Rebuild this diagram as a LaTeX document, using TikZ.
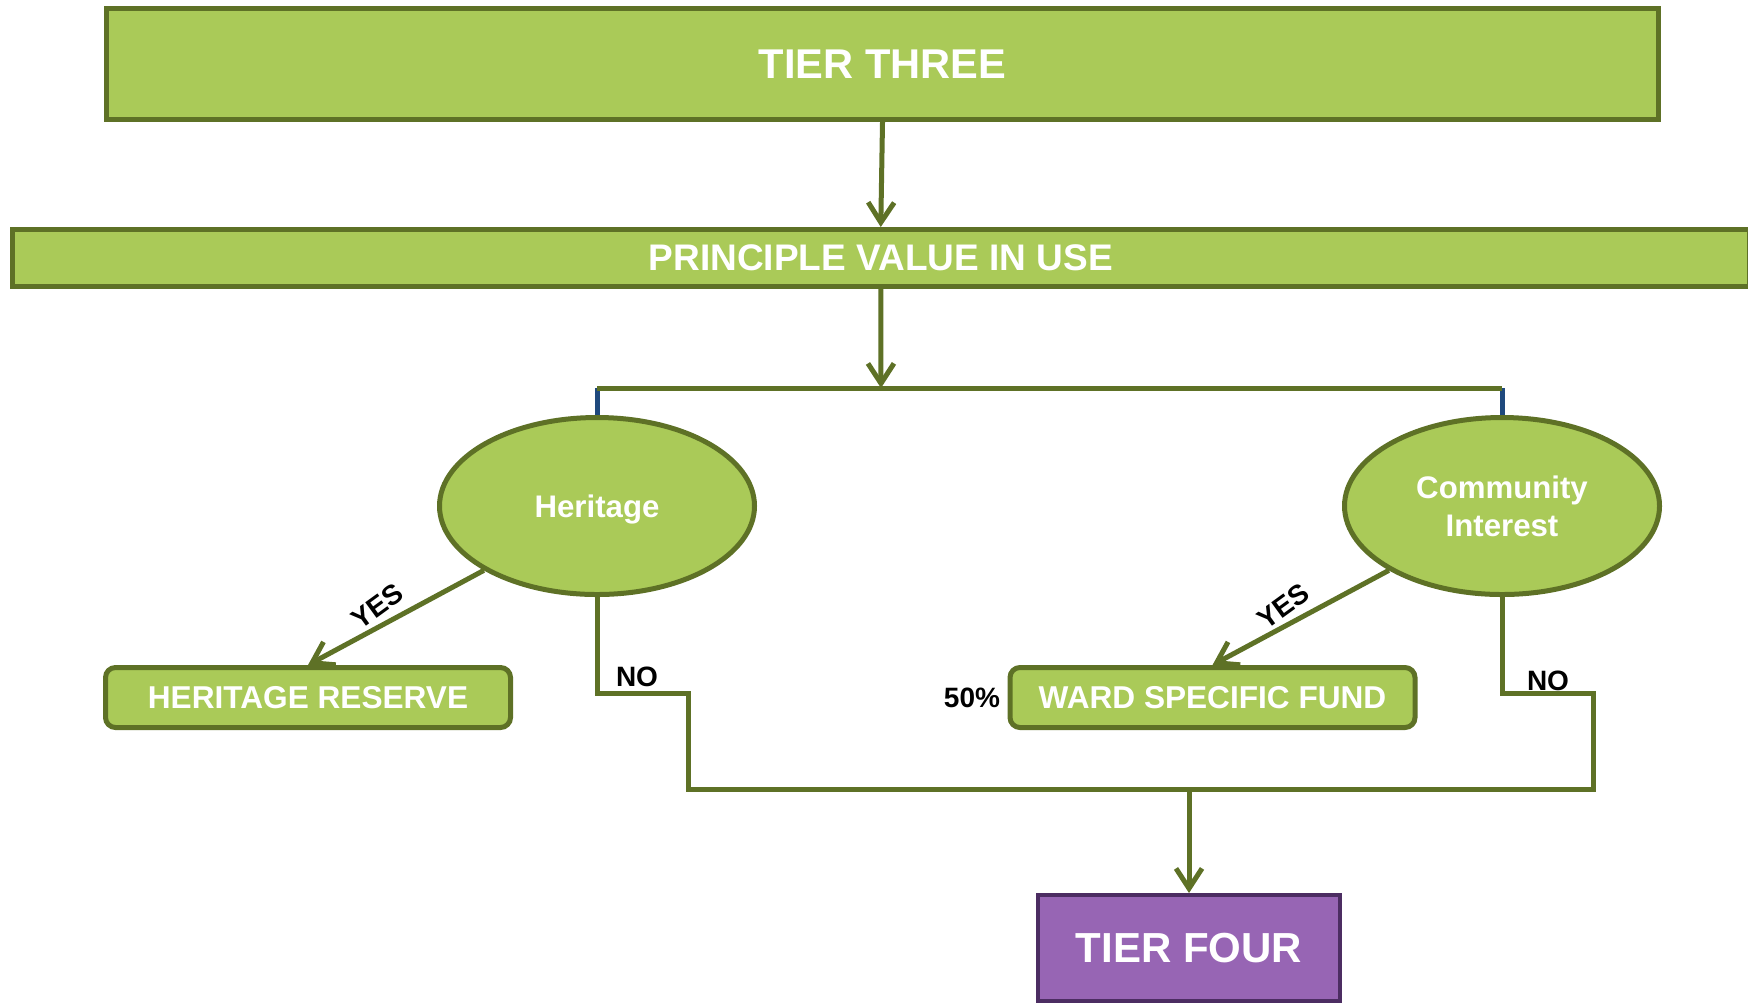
\documentclass[tikz,border=0pt]{standalone}
\usepackage{fontspec}
\setmainfont{Liberation Sans}
\usetikzlibrary{arrows.meta,shapes.geometric}
\definecolor{gfill}{RGB}{170,202,88}
\definecolor{gline}{RGB}{94,113,38}
\definecolor{pfill}{RGB}{151,101,180}
\definecolor{pline}{RGB}{76,45,98}
\definecolor{bstub}{RGB}{31,73,125}
\tikzset{
  gbox/.style={draw=gline, fill=gfill, line width=2.5pt, inner sep=0pt, text=white},
  roundbox/.style={gbox, rounded corners=5pt, minimum width=202.5pt, minimum height=30pt,
    font=\bfseries\fontsize{15.8}{18}\selectfont},
  oval/.style={gbox, ellipse, minimum width=157.5pt, minimum height=88.5pt, align=center,
    text depth=0pt, font=\bfseries\fontsize{15.6}{18.7}\selectfont},
  conn/.style={draw=gline, line width=2.5pt},
  arr/.style={-{Straight Barb[length=10pt,width=13pt,line width=2.5pt]}},
  lab/.style={text=black, inner sep=0pt, font=\bfseries\fontsize{14}{16}\selectfont},
  yeslab/.style={lab, rotate=36},
}
\begin{document}
\begin{tikzpicture}[x=0.5pt,y=-0.5pt]
\useasboundingbox (0,0) rectangle (1748,1003);

% boxes
\node[gbox, minimum width=776pt, minimum height=55.5pt,
  font=\bfseries\fontsize{20.8}{24}\selectfont] (t3) at (882.5,64) {TIER THREE};
\node[gbox, minimum width=868.25pt, minimum height=28.5pt,
  font=\bfseries\fontsize{18.5}{22}\selectfont] (pv) at (880.75,258) {PRINCIPLE VALUE IN USE};

\node[oval] (her) at (597,506) {Heritage};
\node[oval] (ci) at (1502,506) {Community\\Interest};

\node[roundbox] (hr) at (308,697.5) {HERITAGE RESERVE};
\node[roundbox] (wsf) at (1212.5,697.5) {WARD SPECIFIC FUND};

\node[draw=pline, fill=pfill, line width=2pt, inner sep=0pt, text=white,
  minimum width=151pt, minimum height=53pt,
  font=\bfseries\fontsize{21}{25}\selectfont] (tf) at (1189,948) {TIER FOUR};

% coordinates
\coordinate (split) at (881,388);
\coordinate (hk) at (688,693);
\coordinate (hb) at (688,789);
\coordinate (ck) at (1593,693);
\coordinate (cb) at (1593,789);
\coordinate (join) at (1189,789);

% connectors
\draw[conn,arr] (t3.south) -- (pv.north);
\draw[conn,arr] (pv.south) -- (split);
\draw[draw=bstub, line width=2.5pt] (her.north |- split) -- (her.north);
\draw[draw=bstub, line width=2.5pt] (ci.north |- split) -- (ci.north);
\draw[conn] (her.north |- split) -- (ci.north |- split);

\draw[conn,arr] (her.south west) -- (hr.north);
\draw[conn,arr] (ci.south west) -- (wsf.north);

\draw[conn] (her.south) |- (hk) -- (hb) -- (cb) -- (ck) -| (ci.south);
\draw[conn,arr] (join) -- (tf.north);

% labels
\node[yeslab] (yes1) at (377.5,606.5) {YES};
\node[yeslab] (yes2) at (1283,606.5) {YES};
\node[lab] (no1) at (637,677) {NO};
\node[lab] (no2) at (1548,681) {NO};
\node[lab] (pct) at (972,698) {50\%};
\end{tikzpicture}
\end{document}
